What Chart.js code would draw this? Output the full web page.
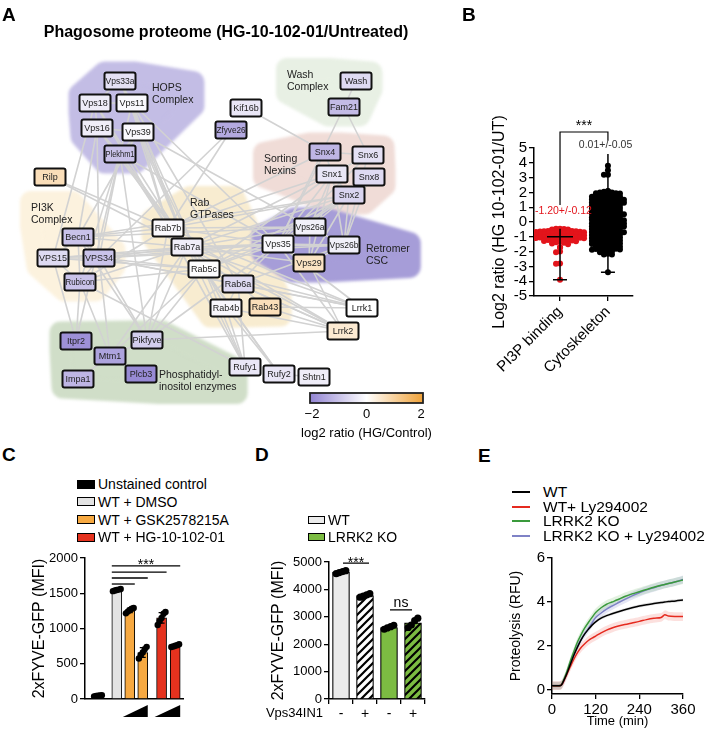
<!DOCTYPE html>
<html>
<head>
<meta charset="utf-8">
<script src="https://cdn.jsdelivr.net/npm/chart.js@4.4.1/dist/chart.umd.min.js"></script>
<style>
body { margin: 0; background: #fff; font-family: 'Liberation Sans', Arial, sans-serif; }
#page { position: relative; width: 709px; height: 732px; overflow: hidden; }
canvas { position: absolute; }
.t { position: absolute; white-space: nowrap; color: #000; line-height: 1; transform: translateY(-50%); }
.box { position: absolute; border: 1px solid #000; box-sizing: border-box; }
.ln { position: absolute; height: 2px; }
</style>
</head>
<body>
<div id="page">
  <canvas id="chartA" width="460" height="440" style="left:0;top:0"></canvas>
  <canvas id="chartB" width="249" height="340" style="left:460px;top:100px"></canvas>
  <canvas id="chartC" width="240" height="192" style="left:0;top:540px"></canvas>
  <canvas id="chartD" width="240" height="192" style="left:240px;top:540px"></canvas>
  <canvas id="chartE" width="229" height="192" style="left:480px;top:540px"></canvas>
</div>
<script>
var FONT = "'Liberation Sans', Arial, sans-serif";
Chart.defaults.font.family = FONT;
Chart.defaults.color = '#000';
Chart.defaults.animation = false;

// ---- A: network
var titleA = 'Phagosome proteome (HG-10-102-01/Untreated)';
var nodeNames = ['Vps33a','Vps18','Vps11','Vps16','Vps39','Plekhm1','Kif16b','Zfyve26','Wash','Fam21',
  'Snx4','Snx6','Snx1','Snx8','Snx2','Rilp','Rab7b','Rab7a','Rab5c','Rab6a',
  'Rab4b','Rab43','Becn1','VPS15','VPS34','Rubicon','Vps26a','Vps35','Vps26b','Vps29',
  'Lrrk1','Lrrk2','Itpr2','Mtm1','Pikfyve','Impa1','Plcb3','Rufy1','Rufy2','Shtn1'];
var nodeX = [120,95,132,97,138,120,246,231,356,344, 325,368,332,369,349,50,168,187,204,238,
  226,265,78,53,99,80,310,278,344,309, 362,343,76,110,147,78,141,245,279,314];
var nodeY = [81,103,103,128,132,154,108,130,81,107, 152,155,174,177,195,177,228,247,269,284,
  308,307,237,258,258,282,227,244,245,263, 308,331,341,356,340,379,374,367,374,377];
var nodeLog2 = [-0.5,-0.3,-0.1,-0.3,-0.1,-1.0,-0.4,-1.4,-0.6,-1.1, -1.2,-0.5,-0.4,-0.6,-0.7,0.7,-0.1,-0.3,-0.05,-0.6,
  -0.15,0.7,-1.0,-0.6,-1.0,-1.0,-0.25,-0.1,-0.25,0.6, 0.0,0.45,-1.8,-1.5,-0.8,-1.2,-1.9,-0.4,-0.4,-0.3];
var edges = [
  ['Vps33a','Vps18'],['Vps33a','Vps11'],['Vps18','Vps11'],['Vps18','Vps16'],['Vps11','Vps39'],['Vps16','Vps39'],
  ['Vps16','Plekhm1'],['Vps39','Plekhm1'],['Vps11','Plekhm1'],
  ['Vps33a','Rab7a'],['Vps18','Rab7a'],['Vps11','Rab7a'],['Vps16','Rab7a'],['Vps39','Rab7a'],['Plekhm1','Rab7a'],
  ['Plekhm1','Rab7b'],['Vps39','Rab7b'],['Vps11','Rab7b'],['Vps39','Rab5c'],['Plekhm1','Rab5c'],['Vps11','Rab6a'],
  ['Plekhm1','Vps35'],['Vps39','Vps26a'],['Vps11','Vps35'],['Vps33a','Rab5c'],['Vps18','Rab7b'],
  ['Vps16','Becn1'],['Vps18','VPS15'],['Plekhm1','Rubicon'],['Plekhm1','VPS34'],['Vps16','VPS34'],['Vps39','Becn1'],
  ['Kif16b','Snx4'],['Zfyve26','VPS34'],['Zfyve26','Rab7b'],['Wash','Fam21'],['Fam21','Snx6'],['Fam21','Vps35'],
  ['Rilp','Rab7a'],['Rilp','Rab7b'],
  ['Becn1','VPS15'],['Becn1','VPS34'],['VPS15','VPS34'],['Becn1','Rubicon'],['VPS34','Rubicon'],['VPS15','Rubicon'],
  ['Becn1','Rab7a'],['Becn1','Rab7b'],['VPS34','Rab7a'],['VPS34','Rab5c'],['VPS15','Rab7a'],['Rubicon','Rab7a'],
  ['Rubicon','Rab7b'],['VPS34','Vps35'],['Becn1','Vps26a'],['VPS15','Vps35'],['Rubicon','Rab5c'],['VPS34','Rab6a'],
  ['Becn1','Snx2'],['VPS34','Vps26b'],['VPS15','Rab5c'],
  ['Rab7b','Rab7a'],['Rab7a','Rab5c'],['Rab5c','Rab6a'],['Rab6a','Rab4b'],['Rab5c','Rab4b'],['Rab6a','Rab43'],['Rab7a','Rab6a'],
  ['Rab7a','Vps35'],['Rab7a','Vps26a'],['Rab7a','Vps26b'],['Rab7a','Vps29'],['Rab7b','Vps35'],['Rab7b','Vps26a'],
  ['Rab5c','Vps35'],['Rab5c','Vps26a'],['Rab7a','Snx1'],['Rab7a','Snx2'],['Rab7b','Snx2'],['Rab7b','Snx1'],
  ['Rab5c','Snx2'],['Rab6a','Vps35'],['Rab6a','Vps26b'],['Rab7b','Snx4'],['Rab5c','Snx1'],
  ['Vps26a','Vps35'],['Vps35','Vps29'],['Vps26b','Vps35'],['Vps26a','Vps29'],['Vps26b','Vps29'],['Vps26a','Vps26b'],
  ['Snx1','Vps35'],['Snx2','Vps35'],['Snx1','Vps26a'],['Snx2','Vps26a'],['Snx8','Vps26b'],['Snx6','Vps26b'],
  ['Snx1','Snx2'],['Snx4','Snx1'],['Snx6','Snx1'],['Snx4','Snx6'],['Snx8','Snx2'],['Snx2','Vps29'],['Snx1','Vps29'],
  ['Snx6','Vps35'],['Snx4','Vps35'],['Snx2','Vps26b'],['Snx8','Vps35'],['Snx1','Vps26b'],
  ['Lrrk1','Rab7a'],['Lrrk1','Rab5c'],['Lrrk1','Rab6a'],['Lrrk1','Vps35'],['Lrrk1','Rab43'],['Lrrk2','Rab43'],
  ['Lrrk2','Rab5c'],['Lrrk2','Rab7a'],['Lrrk2','Rab6a'],['Lrrk2','Vps35'],['Lrrk2','Rab4b'],['Lrrk2','Pikfyve'],
  ['Lrrk2','Rab7b'],['Lrrk1','VPS34'],['Lrrk1','Rab7b'],['Lrrk2','Vps29'],
  ['Rufy1','Rab5c'],['Rufy1','Rab4b'],['Rufy1','Rab6a'],['Rufy2','Rab5c'],['Rufy2','Rab4b'],['Rufy2','Shtn1'],
  ['Rufy1','Rab7b'],['Rufy2','Rab7a'],['Rufy1','Rubicon'],['Rufy1','Rab7a'],
  ['Rubicon','Itpr2'],['Pikfyve','Mtm1'],['Itpr2','Mtm1'],['Pikfyve','VPS34'],['Mtm1','VPS34'],['Pikfyve','Rab5c'],
  ['Pikfyve','Rab7b'],['Mtm1','Rab5c'],['Itpr2','VPS15'],['Pikfyve','Becn1'],['Impa1','Mtm1'],['Plcb3','Mtm1'],
  ['Pikfyve','Rab7a'],['Mtm1','Rab7a'],['Pikfyve','Vps35'],['Itpr2','Plekhm1'],['Pikfyve','Plekhm1'],['Mtm1','Rubicon']
];
var groupNames = [['Rab','GTPases'],['PI3K','Complex'],['HOPS','Complex'],['Wash','Complex'],
  ['Sorting','Nexins'],['Retromer','CSC'],['Phosphatidyl-','inositol enzymes']];
var groupMembers = [
  ['Rab7b','Rab7a','Rab5c','Rab6a','Rab4b','Rab43'],
  ['Becn1','VPS15','VPS34','Rubicon'],
  ['Vps33a','Vps18','Vps11','Vps16','Vps39','Plekhm1'],
  ['Wash','Fam21'],
  ['Snx4','Snx6','Snx1','Snx8','Snx2'],
  ['Vps26a','Vps35','Vps26b','Vps29'],
  ['Itpr2','Mtm1','Pikfyve','Impa1','Plcb3']
];
var colorTicks = [-2, 0, 2];
var colorTitle = 'log2 ratio (HG/Control)';

// ---- B: scatter
var bCats = ['PI3P binding', 'Cytoskeleton'];
var bRed = [-0.45,-0.46,-0.48,-0.5,-0.5,-0.52,-0.53,-0.55,-0.56,-0.58,-0.6,-0.6,-0.62,-0.63,-0.65,-0.66,-0.68,
  -0.7,-0.7,-0.72,-0.73,-0.75,-0.76,-0.78,-0.8,-0.8,-0.82,-0.83,-0.85,-0.86,-0.88,-0.9,-0.9,-0.92,-0.93,-0.95,
  -0.96,-0.98,-1.0,-1.0,-1.02,-1.03,-1.05,-1.06,-1.08,-1.1,-1.1,-1.12,-1.14,-1.16,-1.18,-1.2,-1.22,-1.25,-1.28,
  -1.3,-1.33,-1.36,-1.4,-1.45,-1.5,-1.7,-1.72,-2.0,-2.05,-2.8,-2.82,-3.9];
var bBlack = [2.1,2.05,2.0,2.0,1.95,1.95,1.92,2.08, 1.85,1.82,1.8,1.78,1.75,1.72,1.88,1.7,
  1.68,1.65,1.6,1.6,1.55,1.52,1.62,1.58,1.5, 1.48,1.45,1.4,1.4,1.35,1.32,1.42,1.38,1.3,
  1.28,1.25,1.2,1.2,1.15,1.12,1.22,1.18, 1.08,1.05,1.0,1.0,0.95,0.92,1.02,0.98,
  0.88,0.85,0.8,0.8,0.75,0.72,0.82,0.78,0.7, 0.68,0.65,0.6,0.6,0.55,0.52,0.62,0.58,
  0.48,0.45,0.4,0.4,0.35,0.32,0.42,0.38,0.3, 0.28,0.25,0.2,0.2,0.15,0.12,0.22,0.18,
  0.08,0.05,0.0,0.0,-0.05,-0.08,0.02,-0.02,-0.1, -0.12,-0.15,-0.2,-0.2,-0.25,-0.28,-0.18,-0.22,
  -0.32,-0.35,-0.4,-0.4,-0.45,-0.48,-0.38,-0.42,-0.3, -0.52,-0.55,-0.6,-0.6,-0.65,-0.68,-0.58,-0.62,
  -0.72,-0.75,-0.8,-0.8,-0.85,-0.88,-0.78,-0.82,-0.7, -0.92,-0.95,-1.0,-1.0,-1.05,-1.08,-0.98,-1.02,
  -1.12,-1.15,-1.2,-1.2,-1.25,-1.28,-1.18,-1.22, -1.32,-1.35,-1.4,-1.4,-1.45,-1.48,-1.38,-1.42,
  -1.52,-1.55,-1.6,-1.6,-1.65,-1.68,-1.58, -1.72,-1.75,-1.8,-1.8,-1.85,-1.88,-1.78,-1.82,
  -1.92,-1.95,-2.0,-2.05, -2.15,-2.2,-2.2, 3.8,3.5,3.2,3.2,-3.4];
var bMean = [-1.0, 0.0];
var bRange = [[-3.9, -0.45], [-3.4, 4.6]];
var bNotes = ['-1.20+/-0.12', '0.01+/-0.05'];
var bSig = '***';
var bTicks = [-5, -4, -3, -2, -1, 0, 1, 2, 3, 4, 5];

// ---- C: bars
var cGroups = ['Unstained control', 'WT + DMSO', 'WT + GSK2578215A', 'WT + HG-10-102-01'];
var cBarGroup = [0, 1, 2, 2, 3, 3];
var cMeans = [45, 1545, 1255, 660, 1150, 755];
var cSd = [8, 12, 30, 70, 75, 18];
var cDots = [[36,42,46,50,54],[1530,1538,1546,1552,1560],[1215,1240,1262,1280,1292],
  [575,625,660,705,740],[1050,1105,1150,1210,1235],[738,746,755,764,776]];
var cSigTargets = [2, 3, 4, 5];
var cSigLevels = [1631, 1716, 1801, 1887];
var cTicks = [0, 500, 1000, 1500, 2000];

// ---- D: bars
var dGroups = ['WT', 'LRRK2 KO'];
var dLabels = ['-', '+', '-', '+'];
var dRowLabel = 'Vps34IN1';
var dMeans = [4630, 3770, 2610, 2780];
var dSd = [40, 50, 50, 140];
var dDots = [[4575,4615,4650,4685],[3715,3755,3800,3845],[2545,2595,2640,2690],[2610,2700,2860,2950]];
var dTicks = [0, 1000, 2000, 3000, 4000, 5000];

// ---- E: curves
var eNames = ['WT', 'WT+ Ly294002', 'LRRK2 KO', 'LRRK2 KO + Ly294002'];
var eTime = [0,10,20,25,30,40,50,60,70,80,90,100,110,120,135,150,165,180,200,220,240,260,280,300,310,320,340,360];
var eWT = [0.2,0.2,0.2,0.22,0.35,0.72,1.15,1.58,1.95,2.28,2.55,2.76,2.95,3.1,3.27,3.38,3.47,3.55,3.65,3.74,3.82,3.88,3.93,3.98,4.0,4.02,4.05,4.09];
var eWTLy = [0.2,0.2,0.2,0.22,0.33,0.68,1.05,1.4,1.7,1.93,2.1,2.25,2.36,2.45,2.6,2.72,2.82,2.9,2.98,3.05,3.12,3.2,3.26,3.3,3.42,3.36,3.34,3.34];
var eKO = [0.2,0.2,0.2,0.22,0.38,0.8,1.3,1.75,2.18,2.52,2.82,3.07,3.3,3.52,3.74,3.9,4.0,4.1,4.25,4.37,4.47,4.57,4.67,4.76,4.8,4.84,4.92,5.0];
var eKOLy = [0.2,0.2,0.2,0.22,0.35,0.72,1.18,1.6,2.0,2.3,2.56,2.8,3.05,3.3,3.5,3.68,3.82,3.95,4.12,4.28,4.42,4.55,4.65,4.75,4.8,4.84,4.92,5.02];
var eSd = [0.07, 0.2, 0.18, 0.18];
var eTicksY = [0, 2, 4, 6];

// ---- helpers
var page = document.getElementById('page');
function addText(txt, x, y, size, css) {
  var d = document.createElement('div');
  d.className = 't';
  d.textContent = txt;
  d.style.left = x + 'px';
  d.style.top = y + 'px';
  d.style.fontSize = size + 'px';
  if (css) d.style.cssText += css;
  page.appendChild(d);
  return d;
}
function addEl(cls, css) {
  var d = document.createElement('div');
  d.className = cls;
  d.style.cssText = css;
  page.appendChild(d);
}
function colorFor(v) {
  var t = Math.max(-1, Math.min(1, v / 2));
  var c = t < 0 ? [146, 132, 210] : [240, 162, 56];
  var a = Math.abs(t);
  return 'rgb(' + Math.round(255 + (c[0] - 255) * a) + ',' + Math.round(255 + (c[1] - 255) * a) + ',' + Math.round(255 + (c[2] - 255) * a) + ')';
}
function hull(pts) {
  pts = pts.slice().sort(function(a, b) { return a[0] - b[0] || a[1] - b[1]; });
  function cross(o, a, b) { return (a[0] - o[0]) * (b[1] - o[1]) - (a[1] - o[1]) * (b[0] - o[0]); }
  var lower = [], upper = [];
  pts.forEach(function(p) {
    while (lower.length >= 2 && cross(lower[lower.length - 2], lower[lower.length - 1], p) <= 0) lower.pop();
    lower.push(p);
  });
  for (var i = pts.length - 1; i >= 0; i--) {
    var p = pts[i];
    while (upper.length >= 2 && cross(upper[upper.length - 2], upper[upper.length - 1], p) <= 0) upper.pop();
    upper.push(p);
  }
  upper.pop(); lower.pop();
  return lower.concat(upper);
}
function axisStyle(size) {
  return {
    grid: { display: true, drawOnChartArea: false, drawTicks: true, tickLength: 5, color: '#000', lineWidth: 1.3 },
    border: { display: true, color: '#000', width: 1.5 },
    ticks: { font: { size: size }, color: '#000', padding: 2, autoSkip: false, callback: function(v) { return String(v); } }
  };
}
function merge(a, b) { return Object.assign({}, a, b); }
function fixedTicks(list) {
  return function(s) { s.ticks = list.map(function(v) { return { value: v }; }); };
}

// ---- letters and titles
addText('A', 2, 14, 19, 'font-weight:bold');
addText('B', 462, 14, 19, 'font-weight:bold');
addText('C', 2, 454, 19, 'font-weight:bold');
addText('D', 255, 454, 19, 'font-weight:bold');
addText('E', 478, 455, 19, 'font-weight:bold');
addText(titleA, 226, 32, 16, 'font-weight:bold;transform:translate(-50%,-50%)');

// legends
var cColors = ['#000000', '#e3e3e3', '#f7a941', '#e5321e'];
cGroups.forEach(function(g, i) {
  var y = 484 + i * 17.8;
  addEl('box', 'left:77px;top:' + (y - 4.5) + 'px;width:18px;height:9px;background:' + cColors[i]);
  addText(g, 98, y, 14);
});
var dColors = ['#ebebeb', '#7cbc42'];
dGroups.forEach(function(g, i) {
  var y = 520 + i * 17;
  addEl('box', 'left:308px;top:' + (y - 4) + 'px;width:17px;height:8px;background:' + dColors[i]);
  addText(g, 328, y, 14);
});
var eColors = ['#000000', '#e52a1f', '#3a9a3c', '#7f82c6'];
var eBand = ['rgba(0,0,0,0.12)', 'rgba(235,60,50,0.16)', 'rgba(80,170,70,0.16)', 'rgba(125,130,205,0.2)'];
eNames.forEach(function(n, i) {
  var y = 492 + i * 14.7;
  addEl('ln', 'left:512px;top:' + (y - 1) + 'px;width:18px;background:' + eColors[i]);
  addText(n, 543, y, 15.5);
});

// ---- chart A
var BW = 31, BH = 17;
var nodeIdx = {};
nodeNames.forEach(function(n, i) { nodeIdx[n] = i; });
var groupLabelPos = [[190, 203], [31, 208], [152, 88], [287, 75], [264, 159], [366, 249], [159, 375]];
var groupColors = ['#f8ecd0', '#fcf2de', '#c3bde5', '#e8f0e4', '#f0dcd7', '#a69dd8', '#d0dec8'];
var groupFont = '10.5px ' + FONT;

var netPlugin = {
  id: 'net',
  beforeDatasetsDraw: function(chart) {
    var ctx = chart.ctx, xs = chart.scales.x, ys = chart.scales.y;
    ctx.save();
    ctx.font = groupFont;
    ctx.filter = 'blur(1.5px)';
    groupMembers.forEach(function(m, gi) {
      var pts = [];
      m.forEach(function(n) {
        var i = nodeIdx[n];
        var px = xs.getPixelForValue(nodeX[i]), py = ys.getPixelForValue(nodeY[i]);
        pts.push([px - BW / 2, py - BH / 2], [px + BW / 2, py - BH / 2], [px - BW / 2, py + BH / 2], [px + BW / 2, py + BH / 2]);
      });
      var w = Math.max.apply(null, groupNames[gi].map(function(s) { return ctx.measureText(s).width; }));
      var lx = xs.getPixelForValue(groupLabelPos[gi][0]), ly = ys.getPixelForValue(groupLabelPos[gi][1]);
      pts.push([lx, ly - 6], [lx + w, ly - 6], [lx, ly + 18], [lx + w, ly + 18]);
      var h = hull(pts);
      ctx.beginPath();
      h.forEach(function(p, k) { if (k) ctx.lineTo(p[0], p[1]); else ctx.moveTo(p[0], p[1]); });
      ctx.closePath();
      ctx.fillStyle = ctx.strokeStyle = groupColors[gi];
      ctx.lineWidth = 22;
      ctx.lineJoin = 'round';
      ctx.fill();
      ctx.stroke();
    });
    ctx.restore();
  },
  afterDatasetsDraw: function(chart) {
    var ctx = chart.ctx, xs = chart.scales.x, ys = chart.scales.y;
    ctx.save();
    ctx.font = groupFont;
    ctx.fillStyle = '#222';
    ctx.textBaseline = 'middle';
    groupNames.forEach(function(lines, gi) {
      var lx = xs.getPixelForValue(groupLabelPos[gi][0]), ly = ys.getPixelForValue(groupLabelPos[gi][1]);
      lines.forEach(function(s, k) { ctx.fillText(s, lx, ly + k * 12.5); });
    });
    ctx.textAlign = 'center';
    nodeNames.forEach(function(n, i) {
      var px = xs.getPixelForValue(nodeX[i]), py = ys.getPixelForValue(nodeY[i]);
      ctx.beginPath();
      ctx.roundRect(px - BW / 2, py - BH / 2, BW, BH, 2);
      ctx.fillStyle = colorFor(nodeLog2[i]);
      ctx.fill();
      ctx.lineWidth = 2;
      ctx.strokeStyle = '#111';
      ctx.stroke();
      ctx.fillStyle = '#222';
      ctx.font = '9px ' + FONT;
      ctx.fillText(n, px, py + 0.5, BW - 2);
    });
    // colour bar
    var x0 = xs.getPixelForValue(310), x1 = xs.getPixelForValue(423);
    var y0 = ys.getPixelForValue(393), y1 = ys.getPixelForValue(403);
    var grad = ctx.createLinearGradient(x0, 0, x1, 0);
    grad.addColorStop(0, colorFor(-2));
    grad.addColorStop(0.5, colorFor(0));
    grad.addColorStop(1, colorFor(2));
    ctx.fillStyle = grad;
    ctx.fillRect(x0, y0, x1 - x0, y1 - y0);
    ctx.lineWidth = 1.8;
    ctx.strokeStyle = '#222';
    ctx.strokeRect(x0, y0, x1 - x0, y1 - y0);
    ctx.fillStyle = '#000';
    ctx.font = '13px ' + FONT;
    colorTicks.forEach(function(v) {
      var px = x0 + 2 + (v + 2) / 4 * (x1 - x0 - 4);
      ctx.fillText(String(v).replace('-', '\u2212'), px, ys.getPixelForValue(414));
    });
    ctx.fillText(colorTitle, (x0 + x1) / 2, ys.getPixelForValue(433));
    ctx.restore();
  }
};

var aDatasets = edges.map(function(e) {
  var a = nodeIdx[e[0]], b = nodeIdx[e[1]];
  return {
    data: [{ x: nodeX[a], y: nodeY[a] }, { x: nodeX[b], y: nodeY[b] }],
    showLine: true, borderColor: '#d2d2d2', borderWidth: 1.6, pointRadius: 0
  };
});
aDatasets.push({ data: nodeNames.map(function(n, i) { return { x: nodeX[i], y: nodeY[i] }; }), pointRadius: 0 });

new Chart(document.getElementById('chartA'), {
  type: 'scatter',
  data: { datasets: aDatasets },
  options: {
    responsive: false, events: [],
    layout: { padding: 0 },
    plugins: { legend: { display: false }, tooltip: { enabled: false } },
    scales: {
      x: { type: 'linear', min: 0, max: 460, display: false },
      y: { type: 'linear', min: 0, max: 440, reverse: true, display: false }
    }
  },
  plugins: [netPlugin]
});

// ---- chart B
var bStep = 0.0835;
function swarm(vals, cx, binW, step) {
  var bins = {};
  return vals.slice().sort(function(a, b) { return b - a; }).map(function(v) {
    var k = Math.round(v / binW);
    var n = bins[k] = (bins[k] || 0) + 1;
    var off = Math.floor(n / 2) * step * (n % 2 ? 1 : -1);
    return { x: cx + off, y: v };
  });
}
var bPlugin = {
  id: 'bExtras',
  afterDatasetsDraw: function(chart) {
    var ctx = chart.ctx, xs = chart.scales.x, ys = chart.scales.y;
    ctx.save();
    ctx.strokeStyle = '#000';
    ctx.lineWidth = 1.5;
    [0, 1].forEach(function(i) {
      var px = xs.getPixelForValue(i);
      ctx.beginPath();
      ctx.moveTo(px, ys.getPixelForValue(bRange[i][0]));
      ctx.lineTo(px, ys.getPixelForValue(bRange[i][1]));
      ctx.moveTo(px - 7, ys.getPixelForValue(bRange[i][0]));
      ctx.lineTo(px + 7, ys.getPixelForValue(bRange[i][0]));
      ctx.moveTo(px - 13, ys.getPixelForValue(bMean[i]));
      ctx.lineTo(px + 13, ys.getPixelForValue(bMean[i]));
      ctx.stroke();
    });
    var xa = xs.getPixelForValue(0), xb = xs.getPixelForValue(1), yt = ys.getPixelForValue(6.08);
    ctx.lineWidth = 1.2;
    ctx.beginPath();
    ctx.moveTo(xa, ys.getPixelForValue(1.15));
    ctx.lineTo(xa, yt);
    ctx.lineTo(xb, yt);
    ctx.lineTo(xb, ys.getPixelForValue(5.5));
    ctx.stroke();
    ctx.textAlign = 'center';
    ctx.textBaseline = 'middle';
    ctx.font = '14px ' + FONT;
    ctx.fillStyle = '#000';
    ctx.fillText(bSig, (xa + xb) / 2, ys.getPixelForValue(6.45));
    ctx.font = '10.5px ' + FONT;
    ctx.fillStyle = '#e3141b';
    ctx.fillText(bNotes[0], xs.getPixelForValue(0.07), ys.getPixelForValue(0.72));
    ctx.fillStyle = '#333';
    ctx.fillText(bNotes[1], xs.getPixelForValue(0.95), ys.getPixelForValue(5.2));
    ctx.restore();
  }
};
var bx = axisStyle(15), by = axisStyle(15);
new Chart(document.getElementById('chartB'), {
  type: 'scatter',
  data: {
    datasets: [
      { data: swarm(bRed, 0, 0.2, bStep), backgroundColor: '#e3141b', borderWidth: 0, pointRadius: 3 },
      { data: swarm(bBlack, 1, 0.2, bStep), backgroundColor: '#000', borderWidth: 0, pointRadius: 3 }
    ]
  },
  options: {
    responsive: false, events: [],
    layout: { padding: { left: 0, top: 48, right: 76, bottom: 0 } },
    plugins: { legend: { display: false }, tooltip: { enabled: false } },
    scales: {
      x: merge(bx, {
        type: 'linear', min: -0.543, max: 1.523,
        afterFit: function(s) { s.height = 144; },
        afterBuildTicks: fixedTicks([0, 1]),
        ticks: merge(bx.ticks, { maxRotation: 45, minRotation: 45, callback: function(v) { return bCats[v]; } })
      }),
      y: merge(by, {
        min: -5, max: 5,
        afterFit: function(s) { s.width = 74; },
        afterBuildTicks: fixedTicks(bTicks),
        title: { display: true, text: 'Log2 ratio (HG 10-102-01/UT)', font: { size: 16 }, padding: { top: 30, bottom: 0 } }
      })
    }
  },
  plugins: [bPlugin]
});

// ---- chart C
var cSlots = [1, 2.45, 3.45, 4.45, 5.9, 6.95];
var cDotOff = [-0.3, -0.15, 0, 0.15, 0.3];
var cPlugin = {
  id: 'cExtras',
  afterDatasetsDraw: function(chart) {
    var ctx = chart.ctx, xs = chart.scales.x, ys = chart.scales.y;
    ctx.save();
    ctx.strokeStyle = '#000';
    ctx.lineWidth = 1.2;
    cMeans.forEach(function(m, i) {
      var px = xs.getPixelForValue(cSlots[i]);
      ctx.beginPath();
      ctx.moveTo(px, ys.getPixelForValue(m - cSd[i])); ctx.lineTo(px, ys.getPixelForValue(m + cSd[i]));
      ctx.moveTo(px - 3, ys.getPixelForValue(m + cSd[i])); ctx.lineTo(px + 3, ys.getPixelForValue(m + cSd[i]));
      ctx.moveTo(px - 3, ys.getPixelForValue(m - cSd[i])); ctx.lineTo(px + 3, ys.getPixelForValue(m - cSd[i]));
      ctx.stroke();
    });
    var xl = xs.getPixelForValue(cSlots[1]) - 5;
    var xr = 0;
    ctx.lineWidth = 1.3;
    cSigTargets.forEach(function(t, k) {
      var y = ys.getPixelForValue(cSigLevels[k]);
      xr = xs.getPixelForValue(cSlots[t]) + 5;
      ctx.beginPath(); ctx.moveTo(xl, y); ctx.lineTo(xr, y); ctx.stroke();
    });
    ctx.fillStyle = '#000';
    ctx.textAlign = 'center';
    ctx.font = '14px ' + FONT;
    ctx.fillText('***', (xl + xr) / 2, ys.getPixelForValue(1920) + 5);
    // dose wedges
    [[2, 3], [4, 5]].forEach(function(p) {
      var a = xs.getPixelForValue(cSlots[p[0]]) - 7, b = xs.getPixelForValue(cSlots[p[1]]) + 5;
      var yb = chart.chartArea.bottom + 18, yt = yb - 12;
      ctx.beginPath(); ctx.moveTo(a, yb); ctx.lineTo(b, yb); ctx.lineTo(b, yt); ctx.closePath(); ctx.fill();
    });
    ctx.restore();
  }
};
var cx = axisStyle(13), cy = axisStyle(13);
var cDotData = [];
cDots.forEach(function(ds, i) {
  ds.forEach(function(v, k) { cDotData.push({ x: cSlots[i] + cDotOff[k], y: v }); });
});
new Chart(document.getElementById('chartC'), {
  type: 'bar',
  data: {
    datasets: [
      { type: 'scatter', data: cDotData, backgroundColor: '#000', borderWidth: 0, pointRadius: 3.2 },
      {
        type: 'bar',
        data: cMeans.map(function(m, i) { return { x: cSlots[i], y: m }; }),
        backgroundColor: cBarGroup.map(function(g) { return cColors[g]; }),
        borderColor: '#000', borderWidth: 1, barThickness: 10
      }
    ]
  },
  options: {
    responsive: false, events: [],
    layout: { padding: { left: 0, top: 18, right: 57, bottom: 0 } },
    plugins: { legend: { display: false }, tooltip: { enabled: false } },
    scales: {
      x: merge(cx, {
        type: 'linear', min: 0, max: 7.55, offset: false,
        afterFit: function(s) { s.height = 33; },
        grid: { display: false },
        ticks: { display: false }
      }),
      y: merge(cy, {
        min: 0, max: 2000,
        afterFit: function(s) { s.width = 85; },
        afterBuildTicks: fixedTicks(cTicks),
        title: { display: true, text: '2xFYVE-GFP (MFI)', font: { size: 16 }, padding: { top: 30, bottom: 0 } }
      })
    }
  },
  plugins: [cPlugin]
});

// ---- chart D
function hatch(base) {
  var c = document.createElement('canvas');
  c.width = 8; c.height = 8;
  var g = c.getContext('2d');
  g.fillStyle = base; g.fillRect(0, 0, 8, 8);
  g.strokeStyle = '#000'; g.lineWidth = 2.2;
  g.beginPath();
  g.moveTo(0, 8); g.lineTo(8, 0);
  g.moveTo(-2, 2); g.lineTo(2, -2);
  g.moveTo(6, 10); g.lineTo(10, 6);
  g.stroke();
  return document.createElement('canvas').getContext('2d').createPattern(c, 'repeat');
}
var dFills = [dColors[0], hatch('#ffffff'), dColors[1], hatch(dColors[1])];
var dDotOff = [-0.2, -0.07, 0.07, 0.2];
var dPlugin = {
  id: 'dExtras',
  afterDatasetsDraw: function(chart) {
    var ctx = chart.ctx, xs = chart.scales.x, ys = chart.scales.y;
    ctx.save();
    ctx.strokeStyle = '#000';
    ctx.fillStyle = '#000';
    ctx.lineWidth = 1.3;
    var y1 = ys.getPixelForValue(4960), y2 = ys.getPixelForValue(3250);
    ctx.beginPath();
    ctx.moveTo(xs.getPixelForValue(0) + 2, y1); ctx.lineTo(xs.getPixelForValue(1) + 4, y1);
    ctx.moveTo(xs.getPixelForValue(2) + 1, y2); ctx.lineTo(xs.getPixelForValue(3) - 1, y2);
    ctx.stroke();
    ctx.textAlign = 'center';
    ctx.font = '14px ' + FONT;
    ctx.fillText('***', (xs.getPixelForValue(0) + xs.getPixelForValue(1)) / 2 + 3, y1 + 4);
    ctx.fillText('ns', (xs.getPixelForValue(2) + xs.getPixelForValue(3)) / 2, y2 - 3);
    ctx.textAlign = 'right';
    ctx.textBaseline = 'middle';
    ctx.font = '13px ' + FONT;
    ctx.fillText(dRowLabel, 83, 173);
    ctx.restore();
  }
};
var dx = axisStyle(14), dy = axisStyle(13);
var dDotData = [];
dDots.forEach(function(ds, i) {
  ds.forEach(function(v, k) { dDotData.push({ x: i + dDotOff[k], y: v }); });
});
new Chart(document.getElementById('chartD'), {
  type: 'bar',
  data: {
    datasets: [
      { type: 'scatter', data: dDotData, backgroundColor: '#000', borderWidth: 0, pointRadius: 3.6 },
      {
        type: 'bar',
        data: dMeans.map(function(m, i) { return { x: i, y: m }; }),
        backgroundColor: dFills, borderColor: '#000', borderWidth: 1.2, barThickness: 17
      }
    ]
  },
  options: {
    responsive: false, events: [],
    layout: { padding: { left: 0, top: 22, right: 55, bottom: 0 } },
    plugins: { legend: { display: false }, tooltip: { enabled: false } },
    scales: {
      x: merge(dx, {
        type: 'linear', min: -0.5, max: 3.5, offset: false,
        afterFit: function(s) { s.height = 33; },
        afterBuildTicks: fixedTicks([0, 1, 2, 3]),
        ticks: merge(dx.ticks, { maxRotation: 0, callback: function(v) { return dLabels[v]; } })
      }),
      y: merge(dy, {
        min: 0, max: 5000,
        afterFit: function(s) { s.width = 89; },
        afterBuildTicks: fixedTicks(dTicks),
        title: { display: true, text: '2xFYVE-GFP (MFI)', font: { size: 16 }, padding: { top: 29, bottom: 0 } }
      })
    }
  },
  plugins: [dPlugin]
});

// ---- chart E
var eSeries = [eWT, eWTLy, eKO, eKOLy];
var eLines = eSeries.map(function(s, i) {
  return {
    data: s.map(function(v, k) { return { x: eTime[k], y: v }; }),
    borderColor: eColors[i], borderWidth: 1.5, pointRadius: 0, tension: 0.3, fill: false
  };
});
var eBands = [];
eSeries.forEach(function(s, i) {
  eBands.push({
    data: s.map(function(v, k) { return { x: eTime[k], y: v + eSd[i] }; }),
    borderColor: 'rgba(0,0,0,0)', borderWidth: 0, pointRadius: 0, tension: 0.3,
    backgroundColor: eBand[i], fill: '+1'
  });
  eBands.push({
    data: s.map(function(v, k) { return { x: eTime[k], y: v - eSd[i] }; }),
    borderColor: 'rgba(0,0,0,0)', borderWidth: 0, pointRadius: 0, tension: 0.3, fill: false
  });
});
var ex = axisStyle(15), ey = axisStyle(15);
new Chart(document.getElementById('chartE'), {
  type: 'line',
  data: { datasets: eLines.concat(eBands) },
  options: {
    responsive: false, events: [],
    layout: { padding: { left: 0, top: 18, right: 26, bottom: 0 } },
    plugins: { legend: { display: false }, tooltip: { enabled: false } },
    scales: {
      x: merge(ex, {
        type: 'linear', min: 0, max: 360,
        afterFit: function(s) { s.height = 38; },
        afterBuildTicks: fixedTicks([0, 120, 240, 360]),
        ticks: merge(ex.ticks, { maxRotation: 0 }),
        title: { display: true, text: 'Time (min)', font: { size: 13 }, padding: { top: 0, bottom: 3 } }
      }),
      y: merge(ey, {
        min: -0.18, max: 6,
        afterFit: function(s) { s.width = 72; },
        afterBuildTicks: fixedTicks(eTicksY),
        title: { display: true, text: 'Proteolysis (RFU)', font: { size: 14 }, padding: { top: 28, bottom: 0 } }
      })
    }
  }
});
</script>
</body>
</html>
